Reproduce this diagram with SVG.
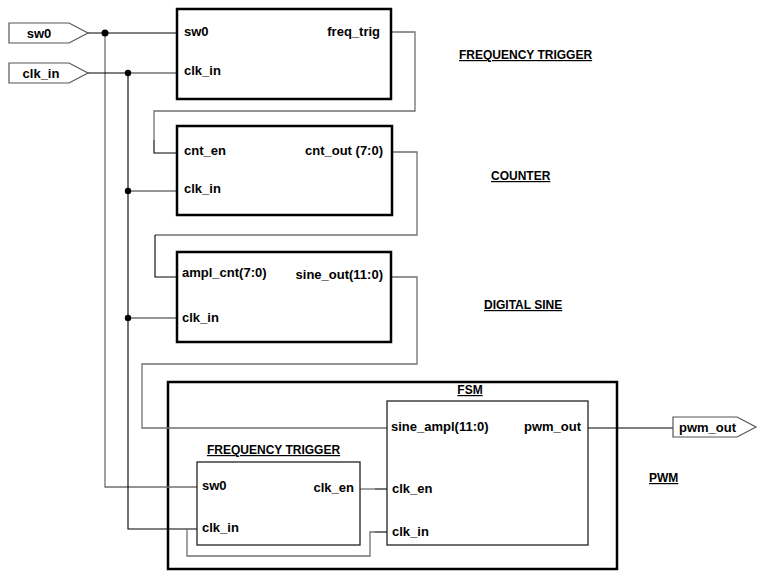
<svg xmlns="http://www.w3.org/2000/svg" width="765" height="580" viewBox="0 0 765 580">
<style>
text{font-family:"Liberation Sans",Arial,sans-serif;font-weight:bold;fill:#000}
.p{font-size:13px}
.h{font-size:12px;text-decoration:underline}
.r{text-anchor:end}
.m{text-anchor:middle}
.blk{fill:#fff;stroke:#000;stroke-width:2.5}
.outer{fill:none;stroke:#000;stroke-width:2.5}
.sub{fill:none;stroke:#222;stroke-width:1.3}
.port{fill:#fff;stroke:#555;stroke-width:1.2}
.g{fill:none;stroke:#707070;stroke-width:1.3}
.k{fill:none;stroke:#000;stroke-width:1.1}
.dot{fill:#000}
</style>
<rect width="765" height="580" fill="#fff"/>
<g id="pwm">
<rect class="outer" x="168" y="382" width="449" height="187"/>
<text class="h" x="649" y="482">PWM</text>
</g>
<g id="connectors">
<polyline class="g" points="105,33 105,487 197,487"/>
<polyline class="k" points="88,33 177,33"/>
<polyline class="k" points="88,73 128,73"/>
<polyline class="g" points="128,73 177,73"/>
<polyline class="k" points="128,73 128,529 197,529"/>
<polyline class="g" points="128,191 177,191"/>
<polyline class="g" points="128,318 177,318"/>
<polyline class="g" points="391,32 415,32 415,111 154,111 154,140"/>
<polyline class="k" points="154,140 154,153 177,153"/>
<polyline class="g" points="392,152 417,152 417,235 155,235"/>
<polyline class="k" points="155,235 155,277 177,277"/>
<polyline class="g" points="391,277 417,277 417,364 142,364 142,428 387,428"/>
<polyline class="g" points="360,489 375,489"/>
<polyline class="k" points="375,489 387,489"/>
<polyline class="g" points="187,529 187,556 370,556 370,532 375,532"/>
<polyline class="k" points="375,532 387,532"/>
<polyline class="k" points="588,428 673,428"/>
<circle class="dot" cx="105" cy="33" r="3.5"/>
<circle class="dot" cx="128" cy="73" r="3.2"/>
<circle class="dot" cx="128" cy="191" r="3.2"/>
<circle class="dot" cx="128" cy="318" r="3.2"/>
</g>
<g id="port-sw0">
<polygon class="port" points="9,23 69,23 88,33 69,43 9,43"/>
<text class="p m" x="39" y="38">sw0</text>
</g>
<g id="port-clk_in">
<polygon class="port" points="9,63 69,63 88,73 69,83 9,83"/>
<text class="p m" x="41" y="78">clk_in</text>
</g>
<g id="port-pwm_out">
<polygon class="port" points="673,417 737,417 756,427 737,437 673,437"/>
<text class="p" x="679" y="432">pwm_out</text>
</g>
<g id="frequency-trigger">
<rect class="blk" x="177" y="9" width="214" height="90"/>
<text class="p" x="184" y="36">sw0</text>
<text class="p" x="184" y="75">clk_in</text>
<text class="p r" x="380" y="36">freq_trig</text>
<text class="h" x="459" y="59">FREQUENCY TRIGGER</text>
</g>
<g id="counter">
<rect class="blk" x="177" y="126" width="215" height="89"/>
<text class="p" x="184" y="155">cnt_en</text>
<text class="p" x="184" y="193">clk_in</text>
<text class="p r" x="383" y="155">cnt_out (7:0)</text>
<text class="h" x="491" y="180">COUNTER</text>
</g>
<g id="digital-sine">
<rect class="blk" x="177" y="252" width="214" height="90"/>
<text class="p" x="182" y="277">ampl_cnt(7:0)</text>
<text class="p" x="182" y="322">clk_in</text>
<text class="p r" x="383" y="279">sine_out(11:0)</text>
<text class="h" x="484" y="309">DIGITAL SINE</text>
</g>
<g id="fsm">
<rect class="sub" x="387" y="401" width="201" height="144"/>
<text class="h m" x="470" y="394">FSM</text>
<text class="p" x="391" y="431">sine_ampl(11:0)</text>
<text class="p r" x="581" y="431">pwm_out</text>
<text class="p" x="392" y="493">clk_en</text>
<text class="p" x="392" y="536">clk_in</text>
</g>
<g id="pwm-frequency-trigger">
<rect class="sub" x="197" y="462" width="163" height="83"/>
<text class="h" x="207" y="454">FREQUENCY TRIGGER</text>
<text class="p" x="202" y="490">sw0</text>
<text class="p" x="202" y="532">clk_in</text>
<text class="p r" x="354" y="492">clk_en</text>
</g>
</svg>
